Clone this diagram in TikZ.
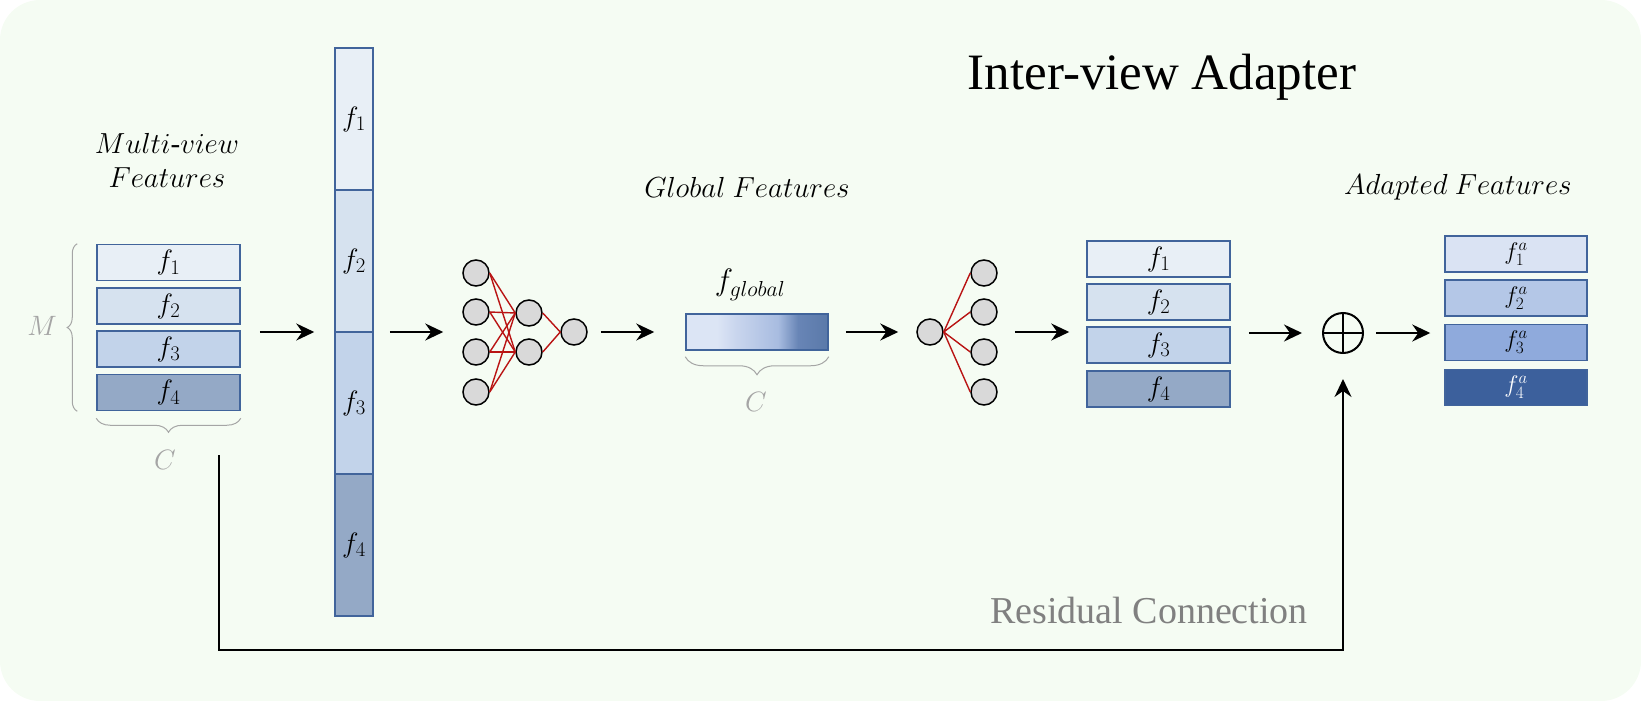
\documentclass[tikz,border=0pt]{standalone}
\usepackage{fontspec}
\setmainfont{Liberation Serif}
\DeclareFontShape{OML}{cmm}{m}{it}{<->cmmi12}{}
\usetikzlibrary{arrows.meta,decorations.pathreplacing,calc}
\definecolor{bgcol}{RGB}{245,252,243}
\definecolor{bordercol}{RGB}{65,100,155}
\definecolor{cA}{RGB}{232,239,246}
\definecolor{cB}{RGB}{214,226,239}
\definecolor{cC}{RGB}{194,211,234}
\definecolor{cD}{RGB}{148,169,198}
\definecolor{aA}{RGB}{218,227,243}
\definecolor{aB}{RGB}{180,199,231}
\definecolor{aC}{RGB}{143,170,220}
\definecolor{aD}{RGB}{60,96,156}
\definecolor{netred}{RGB}{185,20,20}
\definecolor{nodegray}{RGB}{217,217,217}
\definecolor{lightgray}{RGB}{165,165,165}
\definecolor{textgray}{RGB}{128,128,128}
\definecolor{gA}{RGB}{220,229,245}
\definecolor{gB}{RGB}{202,214,238}
\definecolor{gC}{RGB}{168,188,224}
\definecolor{gD}{RGB}{104,133,182}
\definecolor{gE}{RGB}{90,121,169}
\begin{document}
\begin{tikzpicture}[x=1pt,y=-1pt,
  feat/.style={draw=bordercol, line width=1.5pt, minimum width=143pt, minimum height=36pt, inner sep=0pt, font=\fontsize{28}{32}\selectfont},
  adapt/.style={feat, minimum width=142pt, font=\fontsize{24}{26}\selectfont},
  colseg/.style={feat, minimum width=38pt, minimum height=142pt},
  neuron/.style={circle, draw=black, fill=nodegray, line width=1.5pt, minimum size=26pt, inner sep=0pt},
  link/.style={draw=netred, line width=1.4pt},
  arr/.style={draw=black, line width=2pt, -{Stealth[length=18pt,width=17pt,inset=6pt]}},
  bracestyle/.style={draw=lightgray, line width=1pt, decorate},
  lbl/.style={font=\fontsize{29}{34}\selectfont, align=center},
  graylbl/.style={text=lightgray, font=\fontsize{28}{32}\selectfont}
]
\useasboundingbox (0,0) rectangle (1641,701);
\fill[bgcol, rounded corners=40pt] (0,0) rectangle (1641,701);
\coordinate (mid) at (0,332);

% title
\node[font=\fontsize{51}{56}\selectfont, anchor=base] (title) at (1162,89) {Inter-view Adapter};

% multi-view features
\node[lbl] (mvlab) at (167,160) {$Multi\mbox{-}view$\\$Features$};
\node[feat, fill=cA] (m1) at (168.5,262.5) {$f_1$};
\node[feat, fill=cB] (m2) at (168.5,306) {$f_2$};
\node[feat, fill=cC] (m3) at (168.5,349) {$f_3$};
\node[feat, fill=cD] (m4) at (168.5,392.5) {$f_4$};
\draw[bracestyle, decoration={brace, amplitude=10pt}] ($(m4.south west)+(-19,0)$) -- ($(m1.north west)+(-19,0)$);
\node[graylbl] (Mlab) at (42,326) {$M$};
\draw[bracestyle, decoration={brace, amplitude=14pt}] ($(m4.south east)+(0,7)$) -- ($(m4.south west)+(0,7)$);
\node[graylbl] (C1lab) at (165,460) {$C$};

% tall column
\node[colseg, fill=cA] (t1) at (354,119) {$f_1$};
\node[colseg, fill=cB] (t2) at (354,261) {$f_2$};
\node[colseg, fill=cC] (t3) at (354,403) {$f_3$};
\node[colseg, fill=cD] (t4) at (354,545) {$f_4$};

% network 1
\node[neuron] (n1) at (476,273) {};
\node[neuron] (n2) at (476,312) {};
\node[neuron] (n3) at (476,352) {};
\node[neuron] (n4) at (476,392) {};
\node[neuron] (h1) at (529,313) {};
\node[neuron] (h2) at (529,352) {};
\node[neuron] (o1) at (574,332) {};
\foreach \i in {n1,n2,n3,n4}{
  \foreach \j in {h1,h2}{
    \draw[link] (\i.east) -- (\j.west);
  }
}
\draw[link] (h1.east) -- (o1.west);
\draw[link] (h2.east) -- (o1.west);

% global feature bar
\shade[left color=gA, right color=gA] (686,314) rectangle (717,350);
\shade[left color=gA, right color=gB] (717,314) rectangle (735,350);
\shade[left color=gB, right color=gC] (735,314) rectangle (778,350);
\shade[left color=gC, right color=gD] (778,314) rectangle (798,350);
\shade[left color=gD, right color=gE] (798,314) rectangle (828,350);
\node[draw=bordercol, line width=1.5pt, minimum width=142pt, minimum height=36pt, inner sep=0pt] (gbar) at (757,332) {};
\node[font=\fontsize{31}{34}\selectfont] (glab) at (750,285) {$f_{global}$};
\draw[bracestyle, decoration={brace, amplitude=18pt}] ($(gbar.south east)+(0,6)$) -- ($(gbar.south west)+(0,6)$);
\node[graylbl] (C2lab) at (756,402) {$C$};
\node[lbl] (gflab) at (747,187) {$Global~Features$};

% network 2
\node[neuron] (c0) at (930,332) {};
\node[neuron] (r1) at (984,273) {};
\node[neuron] (r2) at (984,312) {};
\node[neuron] (r3) at (984,352) {};
\node[neuron] (r4) at (984,392) {};
\foreach \j in {r1,r2,r3,r4}{
  \draw[link] (c0.east) -- (\j.west);
}

% second feature set
\node[feat, fill=cA] (s1) at (1158.5,259) {$f_1$};
\node[feat, fill=cB] (s2) at (1158.5,302) {$f_2$};
\node[feat, fill=cC] (s3) at (1158.5,345) {$f_3$};
\node[feat, fill=cD] (s4) at (1158.5,389) {$f_4$};

% oplus
\node[circle, draw=black, line width=2pt, minimum size=40pt, inner sep=0pt] (op) at (1343,333) {};
\draw[line width=2pt] (op.north) -- (op.south);
\draw[line width=2pt] (op.west) -- (op.east);

% adapted features
\node[lbl] (aflab) at (1458,187) {$Adapted~Features$};
\node[adapt, fill=aA] (d1) at (1516,254) {$f_1^a$};
\node[adapt, fill=aB] (d2) at (1516,298) {$f_2^a$};
\node[adapt, fill=aC] (d3) at (1516,342.5) {$f_3^a$};
\node[adapt, fill=aD, text=white] (d4) at (1516,387.5) {$f_4^a$};

% arrows
\draw[arr, shorten <=19pt, shorten >=20pt] (m1.east |- mid) -- (t1.west |- mid);
\draw[arr, shorten <=16pt, shorten >=19pt] (t1.east |- mid) -- (n2.west |- mid);
\draw[arr, shorten <=13pt, shorten >=31pt] (o1.east) -- (gbar.west);
\draw[arr, shorten <=17pt, shorten >=18pt] (gbar.east) -- (c0.west);
\draw[arr, shorten <=17pt, shorten >=17pt] (r1.east |- mid) -- (s1.west |- mid);
\draw[arr, shorten <=18pt, shorten >=20pt] (s1.east |- op.west) -- (op.west);
\draw[arr, shorten <=12pt, shorten >=14pt] (op.east) -- (d1.west |- op.east);

% residual connection
\coordinate (rs) at (219,455);
\coordinate (rb) at (219,650);
\draw[arr, shorten >=25pt] (rs) -- (rb) -| (op.south);
\node[text=textgray, font=\fontsize{38}{42}\selectfont] (reslab) at (1149,610) {Residual Connection};
\end{tikzpicture}
\end{document}
